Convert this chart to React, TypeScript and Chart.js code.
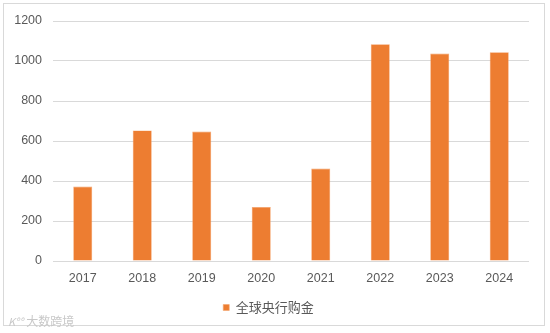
import React, { useEffect, useRef } from "react";
import { Chart, registerables } from "chart.js";

Chart.register(...registerables);

const categories = ["2017", "2018", "2019", "2020", "2021", "2022", "2023", "2024"];
const seriesName = "全球央行购金";
const purchases = [372, 653, 647, 270, 462, 1084, 1037, 1044];
const yTicks = [0, 200, 400, 600, 800, 1000, 1200];

export default function App() {
  const ref = useRef<HTMLCanvasElement | null>(null);

  useEffect(() => {
    document.body.style.margin = "0";
    const canvas = ref.current;
    if (!canvas) return;
    const chart = new Chart(canvas, {
      type: "bar",
      data: {
        labels: categories,
        datasets: [
          {
            label: seriesName,
            data: purchases,
            backgroundColor: "#ED7D31",
            borderColor: "#F4A46E",
            borderWidth: 0.6,
            barPercentage: 0.32,
            categoryPercentage: 1,
          },
        ],
      },
      options: {
        animation: false,
        responsive: false,
        devicePixelRatio: 1,
        layout: { padding: { left: 8, right: 21, top: 21, bottom: 9 } },
        plugins: {
          tooltip: { enabled: false },
          legend: {
            position: "bottom",
            labels: {
              boxWidth: 6,
              boxHeight: 6,
              padding: 12,
              color: "#595959",
              font: { family: "'Noto Sans CJK SC', 'Liberation Sans', sans-serif", size: 13 },
            },
          },
        },
        scales: {
          x: {
            afterFit: (scale: any) => {
              scale.height = 28;
            },
            grid: { display: false, drawTicks: false },
            border: { display: false },
            ticks: {
              color: "#595959",
              padding: 10,
              font: { family: "'Liberation Sans', sans-serif", size: 12.5 },
            },
          },
          y: {
            min: 0,
            max: 1200,
            afterFit: (scale: any) => {
              scale.width = 45;
            },
            afterBuildTicks: (scale: any) => {
              scale.ticks = yTicks.map((v) => ({ value: v }));
            },
            grid: { color: "#D9D9D9", lineWidth: 1, drawTicks: false },
            border: { display: false },
            ticks: {
              color: "#595959",
              padding: 11,
              callback: (v: any) => String(v),
              font: { family: "'Liberation Sans', sans-serif", size: 12.5 },
            },
          },
        },
      },
    });
    return () => chart.destroy();
  }, []);

  return (
    <div style={{ position: "relative", width: 550, height: 333, background: "#fff", overflow: "hidden" }}>
      <div
        style={{
          position: "absolute",
          left: 3,
          top: 3,
          width: 542,
          height: 323,
          border: "1px solid #D9D9D9",
          boxSizing: "border-box",
        }}
      />
      <canvas ref={ref} width={550} height={333} style={{ position: "absolute", left: 0, top: 0 }} />
      <div
        style={{
          position: "absolute",
          left: 8,
          top: 314,
          fontFamily: "'Noto Sans CJK SC', sans-serif",
          fontSize: 12,
          color: "#C8C8C8",
          lineHeight: "14px",
          whiteSpace: "nowrap",
        }}
      >
        <span style={{ fontStyle: "italic", fontSize: 11, marginRight: 3 }}>K°°</span>大数跨境
      </div>
    </div>
  );
}
